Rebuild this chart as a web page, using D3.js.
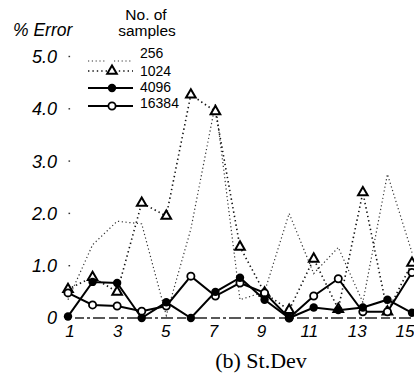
<!DOCTYPE html>
<html><head><meta charset="utf-8">
<script src="https://cdn.jsdelivr.net/npm/d3@7"></script>
<style>body{margin:0;background:#fff}svg{display:block}</style>
</head><body>
<svg id="c" width="414" height="374"></svg>
<script>
const xs = d3.range(1, 16);
const s256   = [0.35, 1.4, 1.85, 1.8, 0.05, 1.7, 4.1, 0.35, 0.5, 2.0, 0.85, 1.35, 0.3, 2.75, 1.25];
const s1024  = [0.55, 0.78, 0.5, 2.2, 1.95, 4.27, 3.95, 1.36, 0.48, 0.15, 1.13, 0.17, 2.4, 0.12, 1.05];
const s4096  = [0.03, 0.69, 0.67, 0.0, 0.3, 0.0, 0.5, 0.77, 0.35, 0.0, 0.2, 0.15, 0.2, 0.35, 0.1];
const s16384 = [0.48, 0.25, 0.23, 0.13, 0.23, 0.8, 0.42, 0.67, 0.48, 0.0, 0.42, 0.75, 0.12, 0.12, 0.87];
const yTicks = [0, 1, 2, 3, 4, 5];
const yTickLabels = ["0", "1.0", "2.0", "3.0", "4.0", "5.0"];
const xTicks = [1, 3, 5, 7, 9, 11, 13, 15];
const legendLabels = ["256", "1024", "4096", "16384"];

const svg = d3.select("#c");
const x = d3.scaleLinear().domain([1, 15]).range([68, 412]);
const xLab = d3.scaleLinear().domain([1, 15]).range([70, 405]);
const y = d3.scaleLinear().domain([0, 5]).range([318, 56.5]);
const sans = "'Liberation Sans', Arial, sans-serif";

// x axis dashed baseline
svg.append("line").attr("x1", 75).attr("x2", 414).attr("y1", y(0)).attr("y2", y(0))
  .attr("stroke", "#222").attr("stroke-width", 1.4).attr("stroke-dasharray", "9,3,3,3,12,4");

// y tick dots
svg.selectAll(".ytd").data(yTicks.slice(1)).join("rect")
  .attr("x", 68.5).attr("y", d => y(d) - 0.7).attr("width", 1.6).attr("height", 1.4).attr("fill", "#333");

// y labels
svg.selectAll(".yl").data(yTicks).join("text")
  .attr("x", 57).attr("y", d => y(d)).attr("dy", "0.36em")
  .attr("text-anchor", "end").attr("font-family", sans).attr("font-style", "italic")
  .attr("font-size", 18).text((d, i) => yTickLabels[i]);

// x labels
svg.selectAll(".xl").data(xTicks).join("text")
  .attr("x", d => xLab(d)).attr("y", 337)
  .attr("text-anchor", "middle").attr("font-family", sans).attr("font-style", "italic")
  .attr("font-size", 17).text(d => d);

// titles
svg.append("text").attr("x", 13).attr("y", 36).attr("font-family", sans).attr("font-style", "italic")
  .attr("font-size", 17.5).text("% Error");
svg.append("text").attr("x", 146).attr("y", 20).attr("text-anchor", "middle").attr("font-family", sans)
  .attr("font-size", 15.5).text("No. of");
svg.append("text").attr("x", 147).attr("y", 36).attr("text-anchor", "middle").attr("font-family", sans)
  .attr("font-size", 15.5).text("samples");
svg.append("text").attr("x", 261).attr("y", 368).attr("text-anchor", "middle")
  .attr("font-family", "'Liberation Serif', 'Times New Roman', serif").attr("font-size", 22).text("(b) St.Dev");

const line = d3.line().x((d, i) => x(xs[i])).y(d => y(d));

// 256
svg.append("path").attr("d", line(s256)).attr("fill", "none").attr("stroke", "#333")
  .attr("stroke-width", 1.2).attr("stroke-dasharray", "1.2,2.6");
// 1024
svg.append("path").attr("d", line(s1024)).attr("fill", "none").attr("stroke", "#111")
  .attr("stroke-width", 1.6).attr("stroke-dasharray", "1.4,3");
const tri = d3.symbol().type(d3.symbolTriangle).size(40);
svg.selectAll(".tri").data(s1024).join("path")
  .attr("d", tri).attr("transform", (d, i) => `translate(${x(xs[i])},${y(d)})`)
  .attr("fill", "#fff").attr("stroke", "#000").attr("stroke-width", 2);
// 16384
svg.append("path").attr("d", line(s16384)).attr("fill", "none").attr("stroke", "#000").attr("stroke-width", 2);
svg.selectAll(".oc").data(s16384).join("circle")
  .attr("cx", (d, i) => x(xs[i])).attr("cy", d => y(d)).attr("r", 3.6)
  .attr("fill", "#fff").attr("stroke", "#000").attr("stroke-width", 1.8);
// 4096
svg.append("path").attr("d", line(s4096)).attr("fill", "none").attr("stroke", "#000").attr("stroke-width", 2);
svg.selectAll(".fc").data(s4096).join("circle")
  .attr("cx", (d, i) => x(xs[i])).attr("cy", d => y(d)).attr("r", 4.2).attr("fill", "#000");

// legend
const lg = svg.append("g");
const lx1 = 88, lx2 = 133, lmx = 112;
const lineYs = [61, 71, 88, 106];
const textYs = [53, 71, 87, 103];
lg.append("line").attr("x1", lx1).attr("x2", 107).attr("y1", lineYs[0]).attr("y2", lineYs[0])
  .attr("stroke", "#333").attr("stroke-width", 1.2).attr("stroke-dasharray", "1.2,2.6");
lg.append("line").attr("x1", 114).attr("x2", lx2).attr("y1", lineYs[0]).attr("y2", lineYs[0])
  .attr("stroke", "#333").attr("stroke-width", 1.2).attr("stroke-dasharray", "1.2,2.6");
lg.append("line").attr("x1", lx1).attr("x2", lx2).attr("y1", lineYs[1]).attr("y2", lineYs[1])
  .attr("stroke", "#111").attr("stroke-width", 1.6).attr("stroke-dasharray", "1.4,3");
lg.append("path").attr("d", tri).attr("transform", `translate(${lmx},${lineYs[1]})`)
  .attr("fill", "#fff").attr("stroke", "#000").attr("stroke-width", 2);
lg.append("line").attr("x1", lx1).attr("x2", lx2).attr("y1", lineYs[2]).attr("y2", lineYs[2])
  .attr("stroke", "#000").attr("stroke-width", 2);
lg.append("circle").attr("cx", lmx).attr("cy", lineYs[2]).attr("r", 4.2).attr("fill", "#000");
lg.append("line").attr("x1", lx1).attr("x2", lx2).attr("y1", lineYs[3]).attr("y2", lineYs[3])
  .attr("stroke", "#000").attr("stroke-width", 2);
lg.append("circle").attr("cx", lmx).attr("cy", lineYs[3]).attr("r", 3.6)
  .attr("fill", "#fff").attr("stroke", "#000").attr("stroke-width", 1.8);
lg.selectAll(".lt").data(legendLabels).join("text")
  .attr("x", 140).attr("y", (d, i) => textYs[i]).attr("dy", "0.36em")
  .attr("font-family", sans).attr("font-size", 14).text(d => d);
</script>
</body></html>
